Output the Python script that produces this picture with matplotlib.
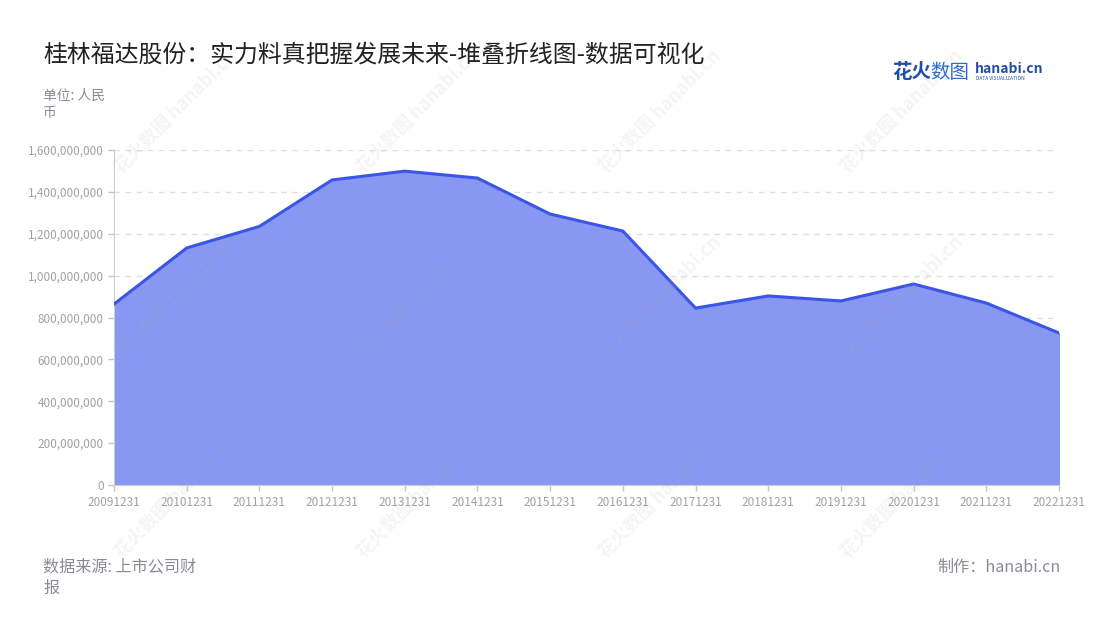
import matplotlib
matplotlib.use('Agg')
import matplotlib.pyplot as plt
import matplotlib.ticker as mticker

plt.rcParams['font.family'] = ['Noto Sans CJK SC', 'DejaVu Sans']

# 数据
dates = ['20091231', '20101231', '20111231', '20121231', '20131231', '20141231', '20151231',
         '20161231', '20171231', '20181231', '20191231', '20201231', '20211231', '20221231']
values = [864e6, 1132e6, 1235e6, 1457e6, 1499e6, 1466e6, 1294e6,
          1213e6, 845e6, 903e6, 879e6, 960e6, 869e6, 726e6]
yticks = [0, 200e6, 400e6, 600e6, 800e6, 1000e6, 1200e6, 1400e6, 1600e6]

title = '桂林福达股份：实力料真把握发展未来-堆叠折线图-数据可视化'

fig = plt.figure(figsize=(11, 6.2), dpi=100)
ax = fig.add_axes([114 / 1100, 1 - 485 / 620, (1059 - 114) / 1100, (485 - 150) / 620])

x = list(range(len(dates)))
ax.fill_between(x, 0, values, color='#8797f2', zorder=2)
ax.plot(x, values, color='#3b55e6', lw=2.2, zorder=3)

ax.set_xlim(0, len(dates) - 1)
ax.set_ylim(0, 1.6e9)
ax.set_xticks(x)
ax.set_xticklabels(dates)
ax.set_yticks(yticks)
ax.yaxis.set_major_formatter(mticker.FuncFormatter(lambda v, p: '{:,.0f}'.format(v)))
ax.tick_params(axis='both', colors='#c4c4c4', labelcolor='#a0a0a8', labelsize=8.5, length=4, width=1)
ax.tick_params(axis='x', pad=4)
ax.grid(axis='y', linestyle=(0, (4, 4)), color='#e0e0e0', lw=1, zorder=1)
for s in ['top', 'right']:
    ax.spines[s].set_visible(False)
ax.spines['left'].set_color('#cccccc')
ax.spines['bottom'].set_color('#cccccc')

# 水印
for wx, wy in [(0.16, 0.82), (0.38, 0.82), (0.6, 0.82), (0.82, 0.82),
               (0.16, 0.52), (0.38, 0.52), (0.6, 0.52), (0.82, 0.52),
               (0.16, 0.2), (0.38, 0.2), (0.6, 0.2), (0.82, 0.2)]:
    fig.text(wx, wy, '花火数图 hanabi.cn', rotation=45, fontsize=13, color='#b0b0b0',
             alpha=0.13, ha='center', va='center', fontweight='bold', zorder=0)

fig.text(43 / 1100, 1 - 55 / 620, title, fontsize=17.2, color='#222222', va='center')
fig.text(43 / 1100, 1 - 96 / 620, '单位: 人民', fontsize=9.9, color='#8a8a96', va='center')
fig.text(43 / 1100, 1 - 113 / 620, '币', fontsize=9.9, color='#8a8a96', va='center')
fig.text(43 / 1100, 1 - 567 / 620, '数据来源: 上市公司财', fontsize=11.6, color='#8a8a96', va='center')
fig.text(43 / 1100, 1 - 588 / 620, '报', fontsize=11.6, color='#8a8a96', va='center')
fig.text(1061 / 1100, 1 - 567 / 620, '制作：hanabi.cn', fontsize=11.6, color='#8a8a96', va='center', ha='right')

# logo
fig.text(892 / 1100, 1 - 72 / 620, '花火', fontsize=14, color='#1f4fa8', fontweight='bold', va='center')
fig.text(930 / 1100, 1 - 72 / 620, '数图', fontsize=14, color='#2d6cc9', va='center')
fig.text(975 / 1100, 1 - 69 / 620, 'hanabi.cn', fontsize=10, color='#1f4fa8', fontweight='bold', va='center')
fig.text(976 / 1100, 1 - 79 / 620, 'DATA VISUALIZATION', fontsize=3.5, color='#1f4fa8', va='center')

plt.savefig('out.png')
